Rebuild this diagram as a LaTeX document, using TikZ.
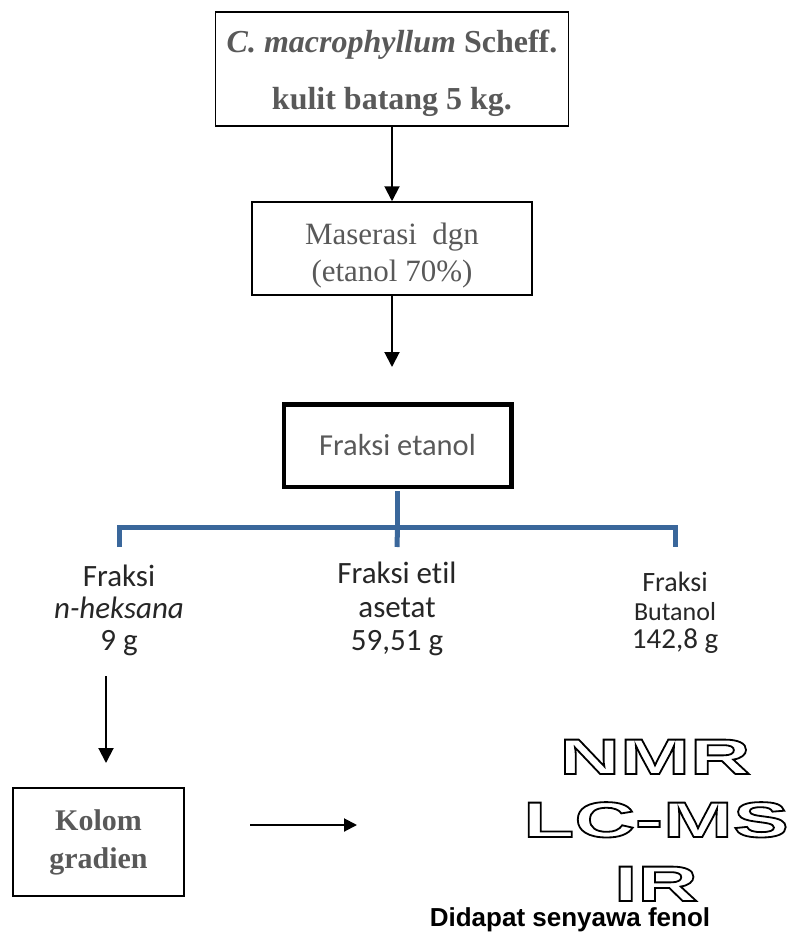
\documentclass[tikz,border=0pt]{standalone}
\usepackage{fontspec}
\usepackage{tikz}
\usetikzlibrary{positioning,arrows.meta}
\setmainfont{Liberation Serif}
\newfontfamily\calfont{Carlito}[Ligatures=NoCommon]
\newfontfamily\arialfont{Liberation Sans}
\newfontfamily\widefont{Liberation Sans Bold}[FakeStretch=1.68]
\definecolor{txtg}{HTML}{595959}
\definecolor{barc}{HTML}{3A679B}
\definecolor{lblc}{HTML}{262626}
% hollow letters: white fill, black stroke
\newcommand{\outl}[1]{{\color{white}\special{pdf:literal direct 0 G 1.8 w 2 Tr}#1\special{pdf:literal direct 0 Tr}}}
\newcommand{\topgap}[1]{\rule{0pt}{#1}}

\begin{document}
\begin{tikzpicture}[x=1pt,y=1pt,
  box/.style={draw,line width=1.5pt,align=center,text=txtg,inner sep=0pt},
  arr/.style={line width=2pt,-{Triangle[length=15pt,width=15pt]}},
  bar/.style={barc,line width=5pt},
  lbl/.style={text=lblc,inner sep=0pt,anchor=base}]
  \useasboundingbox (0,0) rectangle (790,-936);
  % boxes down the middle
  \node[box,minimum width=353pt,minimum height=114pt,font=\bfseries\fontsize{32}{57}\selectfont]
     (src) at (392,-69) {\topgap{32pt}\textit{C. macrophyllum} Scheff.\\kulit batang 5 kg.};
  \node[box,minimum width=280pt,minimum height=93pt,font=\fontsize{31}{37}\selectfont]
     (mas) at (392,-248.5) {\topgap{35pt}Maserasi\ \ dgn\\(etanol 70\%)};
  \node[box,line width=4.5pt,minimum width=227.5pt,minimum height=82.5pt,font=\calfont\fontsize{30.5}{36}\selectfont]
     (etn) at (397.5,-445.5) {Fraksi etanol};
  \draw[arr] (mas.north |- src.south) -- (mas.north);
  \draw[arr,shorten >=35pt] (mas.south) -- (mas.south |- etn.north);
  % fractions
  \foreach \t/\x/\y/\s [count=\i] in {Fraksi/119/-586/31,{\itshape n-heksana}/119/-618/31,9 g/119/-650/31,
      Fraksi etil/397/-583/31,asetat/397/-617/31,{59,51 g}/397/-650/31,
      Fraksi/675/-591/28,Butanol/675/-620/26,{142,8 g}/675/-648/29}
     \node[lbl,font=\calfont\fontsize{\s}{\s}\selectfont] (frac\i) at (\x,\y) {\t};
  \coordinate (tee) at (397.5,-527);
  \draw[bar] ([yshift=-2.25pt]etn.south) -- (tee);
  \draw[bar] (frac1 |- 0,-547) |- (tee) -| (frac7 |- 0,-547);
  \draw[bar] (tee) -- (frac4 |- 0,-547);
  % column and analysis
  \node[box,line width=2pt,minimum width=171pt,minimum height=108pt,font=\bfseries\fontsize{30}{38}\selectfont]
     (kol) at (98.5,-842) {Kolom\\gradien};
  \coordinate (hexdn) at (106,-676);
  \draw[arr,shorten >=24pt] (hexdn) -- (hexdn |- kol.north);
  \coordinate (kolout) at (250,-825);
  \coordinate (kolend) at (357,-825);
  \draw[arr,-{Triangle[length=13pt,width=13pt]}] (kolout) -- (kolend);
  \node[lbl,font=\widefont\fontsize{50}{50}\selectfont] (nmr) at (655,-774) {\outl{NMR}};
  \node[lbl,font=\widefont\fontsize{50}{50}\selectfont] (lcms) at (656,-837) {\outl{LC-MS}};
  \node[lbl,font=\widefont\fontsize{50}{50}\selectfont] (ir) at (656,-901) {\outl{IR}};
  \node[lbl,text=black,font=\arialfont\bfseries\fontsize{26}{30}\selectfont]
     (hasil) at (570,-926) {Didapat senyawa fenol};
\end{tikzpicture}
\end{document}
